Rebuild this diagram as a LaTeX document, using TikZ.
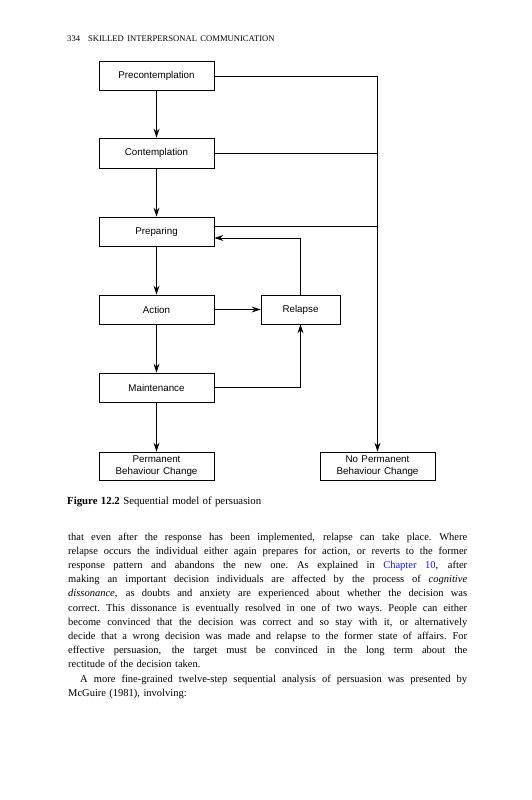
\documentclass[tikz,border=0pt]{standalone}
\usepackage{fontspec}
\setmainfont{Liberation Serif}
\newfontfamily\boxfont{Liberation Sans}
\usepackage{graphicx}
\usetikzlibrary{arrows.meta}
\definecolor{linkblue}{RGB}{20,20,230}
\newcommand{\jlinew}[2]{\makebox[#1][s]{#2}}
\newcommand{\jline}[1]{\jlinew{399pt}{#1}}
\newcommand{\wsp}{\spaceskip=3.4pt plus 3pt minus 0.2pt\xspaceskip=3.8pt plus 3pt minus 0.2pt\relax}
\newcommand{\bodyfont}{\fontsize{10.5}{14.2}\selectfont\wsp}
\begin{document}
\begin{tikzpicture}[x=1pt,y=-1pt,
  stage/.style={draw, line width=0.8pt, minimum width=115pt, minimum height=29pt, inner sep=0pt, font=\boxfont\fontsize{9.8}{12}\selectfont\wsp, align=center},
  arr/.style={line width=0.8pt, -{Stealth[length=9pt,width=6pt]}},
  conn/.style={line width=0.8pt},
  body/.style={anchor=base west, inner sep=0pt, font=\bodyfont}]
\fill[white] (0,0) rectangle (531,800);
\useasboundingbox (0,0) rectangle (531,800);

\node[anchor=base west, inner sep=0pt, font=\fontsize{8.6}{10}\selectfont\wsp] (hdr) at (67,41.5) {334\hspace{8pt}SKILLED INTERPERSONAL COMMUNICATION};

\node[stage] (pre) at (156.5,76) {Precontemplation};
\node[stage, minimum height=30pt] (con) at (156.5,153) {Contemplation};
\node[stage] (prep) at (156.5,231.5) {Preparing};
\node[stage] (act) at (156.5,309.5) {Action};
\node[stage, minimum width=79pt] (rel) at (300.5,309.5) {Relapse};
\node[stage] (main) at (156.5,387.5) {Maintenance};
\node[stage, minimum height=28pt] (perm) at (156.5,466) {Permanent\\Behaviour Change};
\node[stage, minimum height=28pt] (noperm) at (377.5,466) {No Permanent\\Behaviour Change};

\draw[arr] (pre) -- (con);
\draw[arr] (con) -- (prep);
\draw[arr] (prep) -- (act);
\draw[arr] (act) -- (main);
\draw[arr] (main) -- (perm);
\draw[arr] (act) -- (rel);
\draw[arr] (rel.north) |- ([yshift=-6.5pt]prep.east);
\draw[arr] (main.east) -| (rel.south);
\draw[arr] (pre.east) -| (noperm.north);
\draw[conn] (con.east) -- (con.east -| noperm.north);
\draw[conn] ([yshift=5.5pt]prep.east) -- ([yshift=5.5pt]prep.east -| noperm.north);

\node[anchor=base west, inner sep=0pt, font=\fontsize{10.8}{12}\selectfont\wsp] (cap) at (67,504) {\textbf{Figure 12.2} Sequential model of persuasion};

\node[body] (l1) at (68,540) {\jline{that even after the response has been implemented, relapse can take place. Where}};
\node[body] (l2) at (68,554.2) {\jline{relapse occurs the individual either again prepares for action, or reverts to the former}};
\node[body] (l3) at (68,568.4) {\jline{response pattern and abandons the new one. As explained in \textcolor{linkblue}{Chapter 10}, after}};
\node[body] (l4) at (68,582.6) {\jline{making an important decision individuals are affected by the process of \textit{cognitive}}};
\node[body] (l5) at (68,596.8) {\jline{\textit{dissonance}, as doubts and anxiety are experienced about whether the decision was}};
\node[body] (l6) at (68,611.0) {\jline{correct. This dissonance is eventually resolved in one of two ways. People can either}};
\node[body] (l7) at (68,625.2) {\jline{become convinced that the decision was correct and so stay with it, or alternatively}};
\node[body] (l8) at (68,639.4) {\jline{decide that a wrong decision was made and relapse to the former state of affairs. For}};
\node[body] (l9) at (68,653.6) {\jline{effective persuasion, the target must be convinced in the long term about the}};
\node[body] (l10) at (68,667.8) {rectitude of the decision taken.};
\node[body] (l11) at (80,682.0) {\jlinew{387pt}{A more fine-grained twelve-step sequential analysis of persuasion was presented by}};
\node[body] (l12) at (68,696.2) {McGuire (1981), involving:};
\end{tikzpicture}
\end{document}
